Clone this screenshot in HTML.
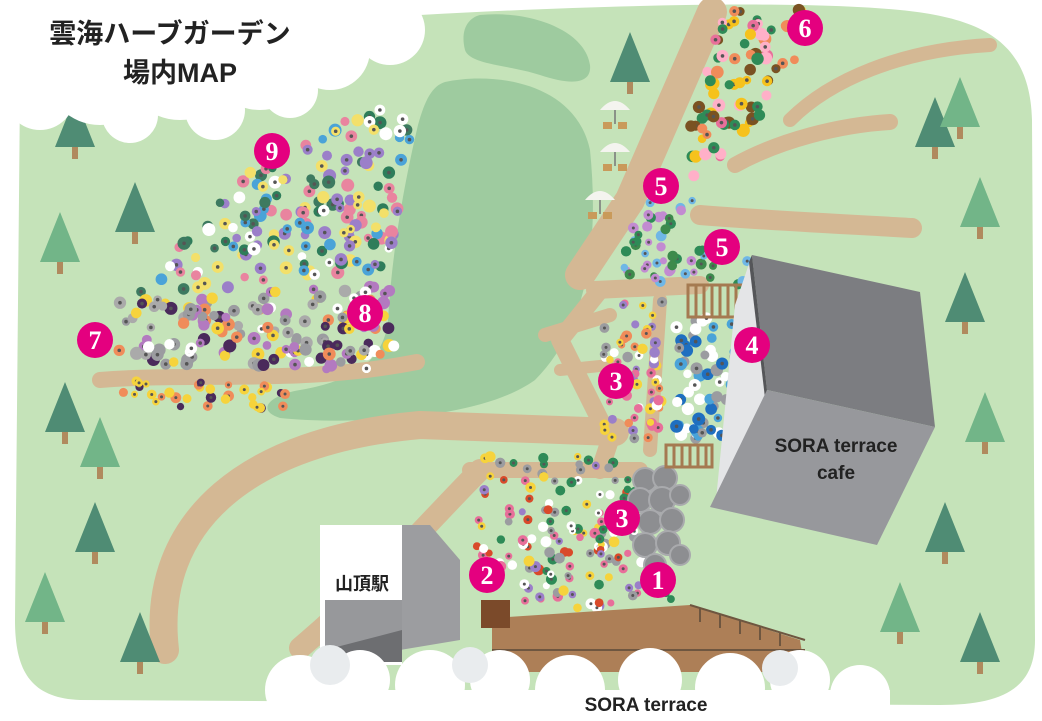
<!DOCTYPE html>
<html><head><meta charset="utf-8"><style>
html,body{margin:0;padding:0;background:#fff;width:1042px;height:721px;overflow:hidden}
svg{display:block}
text{font-family:"Liberation Sans","Noto Sans CJK JP",sans-serif}
</style></head><body>
<svg id="s" width="1042" height="721" viewBox="0 0 1042 721" xmlns="http://www.w3.org/2000/svg">
<path d="M20,90 C30,40 120,20 200,20 L420,15 C600,5 800,0 900,10 C980,18 1030,40 1032,120 L1035,640 C1035,690 1000,705 940,705 L80,700 C30,698 15,670 15,620 Z" fill="#c5e3b9"/>
<path d="M480,15 C530,10 585,30 590,65 C592,85 570,85 540,75 C510,65 470,65 465,50 C460,30 468,18 480,15Z" fill="#9ecb9f"/>
<path d="M445,82 C490,72 575,80 590,150 C600,250 585,330 535,380 C480,420 350,425 280,418 C255,410 270,395 300,390 C360,380 385,355 388,320 C392,250 405,180 418,125 C425,100 432,86 445,82Z" fill="#9ecb9f"/>
<g fill="none" stroke="#d4b894" stroke-linecap="round" stroke-linejoin="round">
<path d="M712,12 L630,200 L580,275" stroke-width="30"/>
<path d="M165,650 C150,520 250,440 420,425 L615,432" stroke-width="28"/>
<path d="M300,648 C380,580 430,520 480,470" stroke-width="22"/>
<path d="M100,380 C200,372 300,385 417,362" stroke-width="16"/>
<path d="M595,290 L700,285" stroke-width="18"/>
<path d="M545,335 L610,315" stroke-width="14"/>
<path d="M560,370 L610,365" stroke-width="12"/>
<path d="M700,215 C760,220 860,225 912,228" stroke-width="20"/>
<path d="M735,165 C780,140 840,125 890,122" stroke-width="16"/>
<path d="M790,120 C830,80 900,50 990,45" stroke-width="14"/>
<path d="M600,290 L560,340 L610,440 L600,470" stroke-width="18"/>
<path d="M660,300 L650,450" stroke-width="14"/>
<path d="M470,470 L640,470" stroke-width="16"/>
</g>
<g id="flowers"></g>
<g fill="#8d8e91" stroke="#a9aaad" stroke-width="2">
<circle cx="645" cy="480" r="12"/><circle cx="665" cy="478" r="12"/><circle cx="640" cy="500" r="12"/><circle cx="662" cy="500" r="13"/><circle cx="680" cy="495" r="10"/><circle cx="650" cy="522" r="12"/><circle cx="672" cy="520" r="12"/><circle cx="645" cy="545" r="12"/><circle cx="668" cy="543" r="12"/><circle cx="655" cy="565" r="11"/><circle cx="680" cy="555" r="10"/>
</g>
<!-- umbrellas -->
<g id="umb"></g>
<g stroke="#a57a51" stroke-width="3">
<rect x="688" y="285" width="60" height="32" fill="none"/>
<path d="M696,285v32M704,285v32M712,285v32M720,285v32M728,285v32M736,285v32"/>
<rect x="666" y="445" width="46" height="22" fill="none"/>
<path d="M674,445v22M682,445v22M690,445v22M698,445v22M706,445v22"/>
</g>
<polygon points="735,305 752,255 767,390 740,470 716,500" fill="#e4e5e7"/>
<polygon points="752,255 920,292 935,427 767,390" fill="#7c7d81"/>
<polygon points="752,255 767,390 765,398 749,262" fill="#555659"/>
<polygon points="767,390 935,427 877,545 710,507" fill="#97989c"/>
<text x="836" y="452" text-anchor="middle" font-size="19" font-weight="bold" fill="#222">SORA terrace</text>
<text x="836" y="479" text-anchor="middle" font-size="19" font-weight="bold" fill="#222">cafe</text>
<polygon points="492,618 690,605 800,640 805,672 492,672" fill="#ad7f57"/>
<g stroke="#6e5640" stroke-width="2" fill="none"><path d="M690,605 L805,640 M492,650 L805,650"/><path d="M700,608v14M720,614v14M740,620v14M760,626v14M780,632v14"/></g>
<rect x="481" y="600" width="29" height="28" fill="#7b4a2a"/>
<polygon points="400,525 430,525 460,560 460,640 400,650" fill="#9c9da0"/>
<rect x="320" y="525" width="82" height="140" fill="#fff"/>
<rect x="325" y="600" width="77" height="62" fill="#97989b"/>
<polygon points="325,650 402,630 402,662 325,662" fill="#6d6e71"/>
<text x="362" y="590" text-anchor="middle" font-size="18" font-weight="bold" fill="#222">山頂駅</text>
<g id="trees"></g>
<g fill="#fff">
<circle cx="40" cy="95" r="35"/><circle cx="100" cy="70" r="55"/><circle cx="180" cy="60" r="60"/><circle cx="260" cy="55" r="55"/><circle cx="330" cy="50" r="40"/><circle cx="390" cy="30" r="35"/><circle cx="130" cy="115" r="28"/><circle cx="215" cy="110" r="30"/><circle cx="290" cy="90" r="28"/><rect x="0" y="0" width="420" height="30"/><rect x="0" y="0" width="300" height="95"/>
<circle cx="300" cy="690" r="35"/><circle cx="360" cy="680" r="30"/><circle cx="430" cy="685" r="35"/><circle cx="500" cy="680" r="30"/><circle cx="570" cy="690" r="35"/><circle cx="650" cy="680" r="32"/><circle cx="730" cy="688" r="35"/><circle cx="800" cy="680" r="30"/><circle cx="860" cy="695" r="30"/><rect x="270" y="690" width="620" height="31"/>
</g>
<g fill="#e9ecee"><circle cx="330" cy="665" r="20"/><circle cx="470" cy="665" r="18"/><circle cx="780" cy="668" r="18"/></g>
<text x="170" y="43" text-anchor="middle" font-size="27" font-weight="bold" fill="#222">雲海ハーブガーデン</text>
<text x="180" y="82" text-anchor="middle" font-size="27" font-weight="bold" fill="#222">場内MAP</text>
<text x="646" y="711" text-anchor="middle" font-size="19" font-weight="bold" fill="#222">SORA terrace</text>
<g id="nums"></g>
</svg>
<script>
var NS="http://www.w3.org/2000/svg";
function el(t,a,p){var e=document.createElementNS(NS,t);for(var k in a)e.setAttribute(k,a[k]);p.appendChild(e);return e;}
var seed=7;function r(){seed=(seed*16807)%2147483647;return seed/2147483647;}
function inPoly(x,y,P){var c=false;for(var i=0,j=P.length-1;i<P.length;j=i++){var xi=P[i][0],yi=P[i][1],xj=P[j][0],yj=P[j][1];if(((yi>y)!=(yj>y))&&(x<(xj-xi)*(y-yi)/(yj-yi)+xi))c=!c;}return c;}
var F=document.getElementById("flowers");
function bed(P,n,cols,rad){var minx=1e9,maxx=0,miny=1e9,maxy=0;P.forEach(function(p){minx=Math.min(minx,p[0]);maxx=Math.max(maxx,p[0]);miny=Math.min(miny,p[1]);maxy=Math.max(maxy,p[1]);});
var c=0,t=0;while(c<n&&t<n*20){t++;var x=minx+r()*(maxx-minx),y=miny+r()*(maxy-miny);if(!inPoly(x,y,P))continue;c++;var col=cols[Math.floor(r()*cols.length)];el("circle",{cx:x,cy:y,r:rad*(0.7+r()*0.4),fill:col},F);if(r()<0.6)el("circle",{cx:x,cy:y,r:rad*0.3,fill:"#555"},F);}}
bed([[130,295],[250,170],[380,100],[415,118],[400,210],[385,268],[200,292]],170,["#4aa3d8","#ffffff","#2e7d5a","#3d7a60","#9b7fc9","#e9849f","#f3e06a"],6);
bed([[115,300],[390,285],[395,345],[370,370],[120,365]],150,["#f08c5a","#f6d33c","#ffffff","#9b9ca0","#9b9ca0","#aaaaaa","#b37ac0","#4a2a5b"],6);
bed([[120,380],[290,385],[290,410],[125,405]],35,["#f6d33c","#4a2a5b","#f08c5a"],5);
bed([[722,10],[810,10],[790,80],[740,140],[700,180],[670,175],[700,100]],80,["#f6c21c","#e86f9a","#ffb0c8","#2e8b57","#7a5222","#f08c5a"],6);
bed([[640,200],[700,200],[660,240],[750,250],[745,285],[655,282],[618,280]],55,["#2e8b57","#c28bd1","#6fb7e6","#3d8a4c"],5);
bed([[605,305],[665,300],[660,440],[600,440]],70,["#f6d33c","#e86f9a","#9b7fc9","#9b9ca0","#ffffff","#f08c5a"],5);
bed([[675,318],[740,318],[732,440],[672,440]],60,["#1f6fc0","#ffffff","#9b9ca0","#4aa3d8"],6);
bed([[475,455],[600,455],[635,470],[640,560],[680,600],[560,615],[520,600],[475,560]],160,["#e86f9a","#9b7fc9","#ffffff","#f6d33c","#9b9ca0","#d94a2a","#2e8b57"],5);
var U=document.getElementById("umb");
[[615,110],[615,152],[600,200]].forEach(function(u){el("path",{d:"M"+(u[0]-15)+","+(u[1])+" Q"+u[0]+","+(u[1]-18)+" "+(u[0]+15)+","+u[1]+"Z",fill:"#f4f4ef"},U);el("path",{d:"M"+u[0]+","+u[1]+"v14",stroke:"#777","stroke-width":1.5},U);el("rect",{x:u[0]-12,y:u[1]+12,width:9,height:7,fill:"#c99a5a"},U);el("rect",{x:u[0]+3,y:u[1]+12,width:9,height:7,fill:"#c99a5a"},U);});
var T=document.getElementById("trees");
[[630,60,1],[75,125,1],[135,210,1],[60,240,0],[935,125,1],[960,105,0],[980,205,0],[965,300,1],[985,420,0],[945,530,1],[900,610,0],[980,640,1],[65,410,1],[100,445,0],[95,530,1],[45,600,0],[140,640,1]].forEach(function(t){var x=t[0],y=t[1];el("rect",{x:x-3,y:y+20,width:6,height:14,fill:"#b08a5e"},T);el("polygon",{points:(x)+","+(y-28)+" "+(x-20)+","+(y+22)+" "+(x+20)+","+(y+22),fill:t[2]?"#4f8c74":"#72b588"},T);});
var N=document.getElementById("nums");
[[805,28,"6"],[272,151,"9"],[661,186,"5"],[722,247,"5"],[365,313,"8"],[95,340,"7"],[752,345,"4"],[616,381,"3"],[622,518,"3"],[487,575,"2"],[658,580,"1"]].forEach(function(n){el("circle",{cx:n[0],cy:n[1],r:18,fill:"#e4007f"},N);var t=el("text",{x:n[0],y:n[1]+9,"text-anchor":"middle","font-size":"26","font-weight":"bold",fill:"#fff",style:"font-family:'Liberation Serif',serif"},N);t.textContent=n[2];});
</script>
</body></html>
